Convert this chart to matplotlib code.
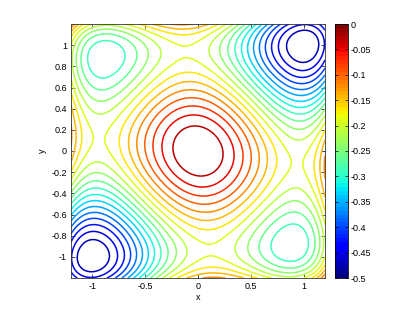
import numpy as np
import matplotlib
matplotlib.use("Agg")
import matplotlib.pyplot as plt
from matplotlib.colors import Normalize
from matplotlib.cm import ScalarMappable

# ---- data ----
x_range = [-1.2, 1.2]
y_range = [-1.2, 1.2]
coupling = 0.054         # asymmetry between the two pairs of wells
z_min, z_max = -0.5, 0.0
n_levels = 20
x_ticks = [-1, -0.5, 0, 0.5, 1]
x_tick_labels = ["-1", "-0.5", "0", "0.5", "1"]
y_ticks = [-1, -0.8, -0.6, -0.4, -0.2, 0, 0.2, 0.4, 0.6, 0.8, 1]
y_tick_labels = ["-1", "-0.8", "-0.6", "-0.4", "-0.2", "0", "0.2", "0.4", "0.6", "0.8", "1"]
cb_ticks = [0, -0.05, -0.1, -0.15, -0.2, -0.25, -0.3, -0.35, -0.4, -0.45, -0.5]
cb_tick_labels = ["0", "-0.05", "-0.1", "-0.15", "-0.2", "-0.25", "-0.3", "-0.35", "-0.4", "-0.45", "-0.5"]

xs = np.linspace(x_range[0], x_range[1], 241)
ys = np.linspace(y_range[0], y_range[1], 241)
X, Y = np.meshgrid(xs, ys)
Z = 0.25 * (X**2 - 1)**2 + 0.25 * (Y**2 - 1)**2 - 0.5 + coupling * (X - Y)**2

levels = np.linspace(z_min, z_max, n_levels + 2)[1:-1]

plt.rcParams['font.family'] = ['Liberation Sans', 'DejaVu Sans']
plt.rcParams['axes.unicode_minus'] = False

W, H = 415, 313
fig = plt.figure(figsize=(W / 100, H / 100), dpi=100)
ax = fig.add_axes([71 / W, 1 - 278 / H, 254 / W, 254 / H])
cmap = plt.get_cmap('jet', 64)
ax.contour(X, Y, Z, levels=levels, cmap=cmap, vmin=z_min, vmax=z_max, linewidths=1.1)
ax.set_xlim(x_range)
ax.set_ylim(y_range)
ax.set_xticks(x_ticks)
ax.set_xticklabels(x_tick_labels)
ax.set_yticks(y_ticks)
ax.set_yticklabels(y_tick_labels)
ax.tick_params(direction='in', top=True, right=True, length=3, width=0.5,
               labelsize=6.5, pad=3, colors='black')
for s in ax.spines.values():
    s.set_linewidth(0.6)
    s.set_color('#333333')
ax.set_xlabel('x', fontsize=6.5, labelpad=1)
ax.set_ylabel('y', fontsize=6.5, labelpad=3)

cax = fig.add_axes([335 / W, 1 - 278 / H, 13 / W, 254 / H])
sm = ScalarMappable(norm=Normalize(z_min, z_max), cmap=cmap)
cb = fig.colorbar(sm, cax=cax)
cb.set_ticks(cb_ticks)
cb.set_ticklabels(cb_tick_labels)
cax.tick_params(direction='in', left=True, right=True, length=2.5, width=0.5,
                labelsize=6.5, pad=2)
cb.outline.set_linewidth(0.6)

fig.savefig('out.png', dpi=100)
